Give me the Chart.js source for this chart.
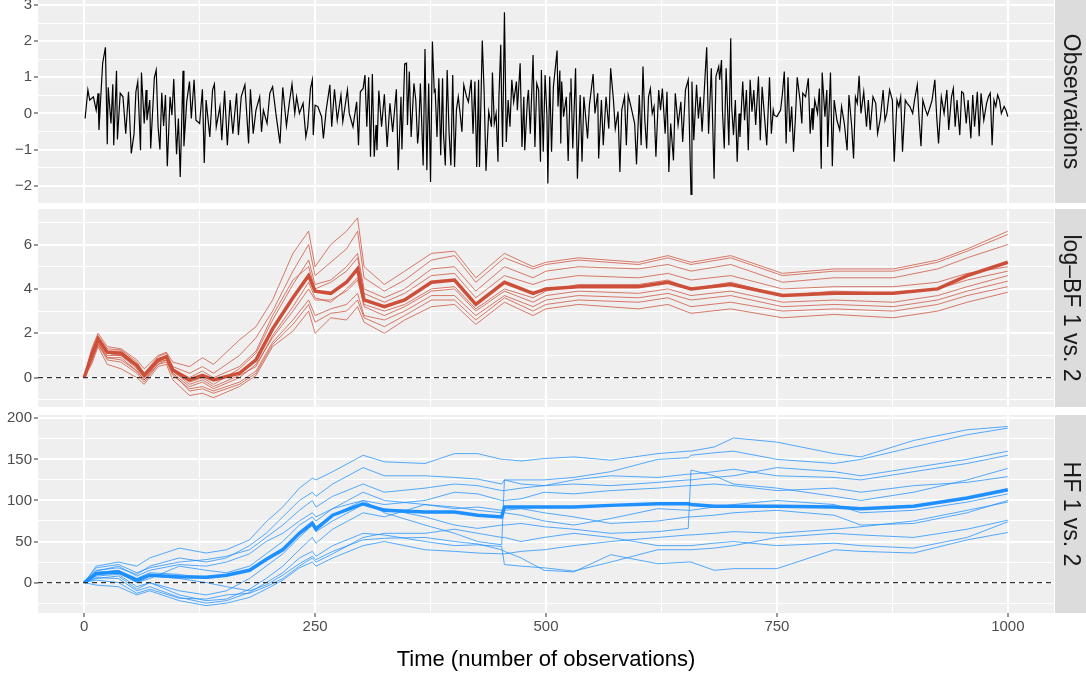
<!DOCTYPE html>
<html>
<head>
<meta charset="utf-8">
<script src="https://cdn.jsdelivr.net/npm/chart.js@4.4.1/dist/chart.umd.min.js"></script>
<style>
  html, body { margin: 0; padding: 0; background: #fff; overflow: hidden; }
  body { width: 1086px; height: 679px; position: relative; }
  .panel { position: absolute; left: 0; width: 1086px; }
</style>
</head>
<body>
<div class="panel" style="top:-20px;height:243px"><canvas id="chartObs"></canvas></div>
<div class="panel" style="top:189px;height:238px"><canvas id="chartBF"></canvas></div>
<div class="panel" style="top:395px;height:284px"><canvas id="chartHF"></canvas></div>
<script>
// ---- data ----
const obsTime = [1,4,6,10,13,15,16,20,23,25,26,29,31,32,35,36,39,42,45,48,51,54,56,58,61,62,65,67,68,71,72,76,78,80,82,84,86,88,90,93,95,97,100,102,104,107,108,111,114,116,119,121,125,128,130,132,136,139,141,143,147,149,152,155,158,161,165,167,170,174,178,180,183,186,190,192,194,198,201,204,208,212,215,219,222,225,228,230,233,237,
  240,242,245,247,248,250,253,257,259,262,266,268,271,274,278,280,285,287,291,295,297,299,302,304,306,308,310,312,314,316,317,319,322,325,328,331,334,338,340,343,344,347,349,350,352,354,357,359,361,362,364,367,369,371,373,375,377,379,380,382,384,386,388,389,391,393,395,397,399,401,403,405,407,409,411,414,416,419,421,423,425,427,428,431,433,435,438,441,442,444,446,448,449,451,452,453,455,456,457,459,461,463,465,468,469,472,474,476,477,480,481,483,486,488,490,492,494,495,497,499,501,502,504,506,508,
  512,513,515,516,517,519,522,524,526,527,529,532,534,537,539,541,545,547,549,551,553,556,557,560,562,565,568,570,573,575,578,580,582,585,587,589,592,596,598,601,603,605,607,609,611,613,615,617,619,622,624,626,629,631,633,635,638,640,643,646,648,651,654,657,658,660,663,665,667,669,672,674,676,679,680,682,684,687,688,690,691,693,695,698,700,701,703,705,707,709,710,713,715,717,719,721,723,725,727,730,732,734,736,739,742,744,746,747,750,754,756,758,760,762,764,766,768,770,772,775,777,778,
  781,784,786,788,789,791,794,796,798,799,802,804,805,808,810,812,815,818,820,823,826,828,831,833,835,837,839,841,844,847,849,851,854,857,859,862,865,867,869,872,875,877,880,882,884,886,889,891,894,897,899,902,904,906,908,911,913,916,918,921,923,925,928,931,934,936,939,941,943,945,948,950,952,955,957,960,962,964,967,969,971,974,977,979,981,983,985,987,989,991,993,996,998,1000];
const obsValue = [-0.14,0.65,0.37,0.46,0.09,0.56,-0.46,1.39,1.83,-0.85,0.72,-0.28,0.81,-0.88,1.18,-0.72,0.56,0.46,-0.56,0.6,-1.11,-0.56,0.6,0.88,-1.02,1.13,-0.28,0.65,-0.19,0.37,-0.97,1.0,1.2,-0.37,-1.0,0.57,-0.35,0.51,-1.46,0.46,-0.05,0.95,-1.13,-0.14,-1.76,1.18,-0.91,0.32,0.88,-0.14,0.93,-0.19,-0.28,0.67,-1.37,0.37,-0.65,0.65,0.81,-0.37,0.19,-0.74,0.63,-0.88,0.37,-0.56,0.56,-0.6,0.46,0.79,-0.83,0.67,-0.56,0.09,0.46,-0.51,0.09,-0.28,0.56,0.74,-0.09,-0.83,0.72,-0.35,0.28,0.81,0,0.46,0,0.28,
  -0.65,-0.37,0.69,0.93,-0.6,0.23,0.19,-0.09,-0.69,0.09,0.79,-0.37,0.67,-0.19,0.51,-0.23,0.65,0,-0.37,0.32,-0.88,0.6,0.69,1.06,-0.37,1.0,-1.2,1.09,-1.2,-0.32,-1.02,0.63,-0.37,0.53,-0.93,0.28,-0.51,0.67,-1.57,0.46,-1.0,1.37,1.39,-0.32,1.16,-0.65,0.83,0.37,-0.83,-0.56,0.83,-1.44,1.78,-1.57,0.83,-1.9,1.99,0.6,0.65,-0.65,0.97,-1.16,0.97,-0.56,-1.44,1.2,-0.51,-1.44,1.06,-1.48,0.09,0.46,0,-0.51,0.79,0.46,0.32,0.93,-0.56,0.88,-1.48,0.93,-1.48,2.02,0.6,-1.59,0.05,-0.37,1.13,-0.28,0,-1.34,0.42,1.9,0.23,-0.93,2.8,1.02,-0.79,0.37,-0.37,0.93,0.32,0.88,0.09,1.39,-0.93,0.46,-1.02,0.42,0.65,-0.56,1.62,-0.93,0.83,0.65,-1.34,1.2,-1.06,1.06,-0.05,-1.94,1.02,-1.06,0.74,
  1.74,0.19,1.19,-0.83,0.88,-0.09,0.46,-1.32,0.56,0.97,-0.97,1.25,-1.81,0.51,-1.34,0.46,-0.69,0.23,0.65,1.09,0,0.56,-1.25,0.37,-0.88,0.46,-0.42,1.25,0.37,-0.42,0.05,-1.62,0.09,0.46,-0.88,0.51,0.19,-0.28,-1.41,0.51,-0.88,1.3,-0.19,-0.97,0.46,0.69,0,0.19,-1.2,0.65,0.09,0.69,-0.56,0.6,-1.62,-0.28,-1.3,0.56,-0.32,0.32,-0.79,0.65,0.93,-2.24,0.88,-0.74,0.79,-0.14,0.46,-0.51,0.93,1.83,-0.56,1.25,0.19,-1.81,1.02,1.3,0.93,1.48,0.09,-0.97,1.25,-0.88,2.08,0.19,-0.6,0.37,-1.34,0,-0.65,0.88,-0.19,0.65,-1.02,0.93,0.05,0.65,-0.32,1.02,-0.74,0.74,0.09,-0.88,1.0,-0.56,0.09,-0.05,-0.09,0.09,0.56,1.16,-0.83,1.0,-0.51,0.19,-1.06,-0.14,1.0,0.37,-0.28,0.56,
  0.46,0.97,-0.56,0.14,-0.46,0.37,0,0.69,-1.53,1.13,-0.09,0.65,-0.93,1.13,-1.46,0.37,-0.19,-0.46,0.19,-0.28,-1.02,0.51,-0.37,-1.25,0.46,0.28,1.04,0,0.6,-0.37,0.37,-0.46,0.46,0.28,-0.56,-0.14,0.65,-0.19,0,0.65,0.37,-1.34,0.37,0.19,0.46,-1.06,0.37,0.28,0.19,0,0.37,0.79,-0.19,-0.91,0.37,0.09,-0.05,0.19,0.37,0.93,-0.09,-0.83,0.46,0,0.65,-0.46,0.46,0.69,-0.37,0.37,-0.6,0.6,0.56,-0.28,0.37,-0.69,0.51,-0.37,0.6,-0.63,0.56,-0.19,0.28,0.46,0.56,-0.88,0.37,0.19,0.51,0.37,0,0.19,0.09,-0.09];

const bfTime = [0,8,15,25,40,57,65,80,89,96,114,128,140,168,186,204,226,243,250,267,284,296,303,325,347,376,401,424,455,486,500,535,600,632,657,700,756,812,876,924,956,1000];
const bfMean = [0,1.0,1.75,1.15,1.1,0.55,0.1,0.8,0.95,0.35,-0.1,0.1,-0.1,0.2,0.8,2.2,3.6,4.6,3.9,3.8,4.3,4.9,3.5,3.2,3.5,4.3,4.4,3.3,4.3,3.8,4.0,4.1,4.1,4.3,4.0,4.2,3.7,3.8,3.8,4.0,4.6,5.2];
const bfRuns = [
  [0,1.3,2.0,1.4,1.3,0.8,0.4,1.0,1.15,0.7,0.5,0.9,0.6,1.7,2.3,3.5,5.6,6.6,5.0,6.0,6.6,7.2,5.0,4.2,4.8,5.6,5.7,4.5,5.6,5.0,5.2,5.4,5.2,5.5,5.2,5.5,4.7,4.9,4.9,5.3,5.8,6.6],
  [0,1.2,1.9,1.3,1.25,0.7,0.2,0.95,1.1,0.5,0.2,0.5,0.2,1.0,1.8,3.0,4.8,6.0,4.6,5.2,5.8,6.6,4.5,3.9,4.4,5.3,5.5,4.3,5.4,4.9,5.1,5.3,5.1,5.4,5.1,5.4,4.6,4.8,4.8,5.2,5.7,6.45],
  [0,0.9,1.6,1.0,1.0,0.4,0.0,0.7,0.9,0.3,-0.2,0.0,-0.3,0.4,1.1,2.6,4.2,5.3,4.2,4.4,5.0,5.6,4.0,3.6,4.0,4.9,5.0,3.9,5.0,4.5,4.8,5.0,4.9,5.1,4.8,5.1,4.3,4.5,4.5,4.9,5.4,6.0],
  [0,1.1,1.8,1.2,1.2,0.6,0.2,0.85,1.0,0.4,0.0,0.3,0.0,0.5,1.2,2.8,4.4,5.0,4.0,4.3,4.8,5.4,3.8,3.4,3.8,4.6,4.7,3.6,4.6,4.2,4.4,4.6,4.5,4.7,4.4,4.6,4.0,4.1,4.1,4.3,4.7,5.0],
  [0,0.8,1.5,0.9,0.9,0.3,-0.1,0.6,0.8,0.2,-0.4,-0.2,-0.5,0.0,0.6,1.8,3.0,4.0,3.5,3.5,3.9,4.4,3.3,3.0,3.3,4.0,4.1,3.1,4.0,3.6,3.9,4.2,4.2,4.4,4.0,4.3,3.7,3.9,3.8,4.0,4.4,4.8],
  [0,1.0,1.7,1.1,1.0,0.5,0.1,0.8,0.9,0.3,-0.3,-0.1,-0.4,0.1,0.5,1.9,3.2,4.3,3.6,3.4,4.0,4.5,3.2,2.8,3.2,3.9,4.0,3.0,3.9,3.4,3.7,3.9,3.8,4.0,3.7,3.9,3.4,3.5,3.4,3.7,4.1,4.6],
  [0,0.7,1.5,0.8,0.7,0.2,-0.2,0.6,0.7,0.1,-0.5,-0.4,-0.6,-0.2,0.3,1.6,2.6,3.5,2.8,3.1,3.3,3.8,2.8,2.6,3.0,3.7,3.7,2.8,3.7,3.2,3.5,3.7,3.6,3.8,3.5,3.7,3.2,3.3,3.2,3.5,3.9,4.35],
  [0,0.9,1.6,0.9,0.8,0.3,-0.1,0.7,0.8,0.2,-0.6,-0.5,-0.7,-0.3,0.2,1.5,2.4,3.3,2.5,2.9,3.0,3.5,2.7,2.3,2.8,3.5,3.5,2.6,3.6,3.0,3.3,3.5,3.4,3.6,3.2,3.4,3.0,3.1,3.0,3.3,3.7,4.1],
  [0,0.6,1.4,0.6,0.4,0.0,-0.3,0.5,0.6,-0.1,-0.8,-0.7,-0.9,-0.4,0.1,1.4,2.1,3.0,2.0,2.7,2.6,3.2,2.5,2.0,2.6,3.2,3.3,2.4,3.4,2.8,3.1,3.3,3.1,3.3,2.9,3.1,2.7,2.85,2.7,3.0,3.4,3.85]
];

const hfTime = [0,13,37,57,71,103,132,154,179,197,215,233,247,251,269,302,325,369,401,426,452,455,473,498,530,570,621,654,657,682,703,750,812,841,898,956,1000];
const hfMean = [0,11,13,3,9,7,6.5,9,15,28,40,60,72,65,82,96,88,86,86,82,80,92,92,92,92,94,96,96,95,93,93,93,92,90,93,103,113];
const hfRuns = [
  [0,20,25,20,30,42,36,40,52,74,92,115,127,125,135,155,147,145,157,157,150,150,148,151,153,149,157,160,160,165,176,171,157,153,173,186,190],
  [0,15,18,10,20,30,25,30,45,60,80,100,110,105,120,140,130,130,128,126,120,125,125,125,128,135,150,152,155,158,160,150,145,150,165,180,188],
  [0,10,15,0,5,20,15,12,20,35,50,70,80,75,90,100,85,70,60,50,46,125,120,118,120,118,122,125,125,128,130,140,135,130,140,150,160],
  [0,8,10,-5,0,-10,-15,-10,5,20,35,55,70,62,75,95,90,80,70,66,70,70,72,68,65,60,62,66,137,130,120,115,105,100,110,125,139],
  [0,12,15,5,12,10,5,8,15,30,42,62,75,68,82,100,95,100,110,108,100,100,102,110,108,112,115,118,118,120,118,112,115,110,118,122,129],
  [0,5,8,-8,0,-15,-22,-20,-8,5,20,40,55,48,65,85,80,95,92,88,85,85,82,75,70,78,90,88,88,92,95,100,95,85,88,98,108],
  [0,14,20,8,15,22,20,25,35,50,60,75,85,80,90,110,100,95,90,92,88,88,90,85,80,72,75,80,80,82,85,88,82,70,72,85,100],
  [0,6,5,-10,-5,-18,-25,-22,-12,0,12,30,38,32,45,60,58,50,45,46,44,22,20,18,14,25,40,40,40,42,45,55,60,58,55,65,76],
  [0,10,12,0,8,5,0,-5,-10,-3,9,23,32,28,38,52,54,55,50,47,40,38,30,15,13,34,23,25,25,15,17,17,40,38,36,52,61],
  [0,3,0,-13,-8,-19,-20,-15,-13,-5,5,20,30,25,35,55,60,60,65,60,55,55,50,55,60,55,45,45,45,48,50,45,48,45,42,55,74],
  [0,18,22,12,18,25,28,32,40,55,70,88,100,92,105,120,110,115,120,118,112,112,115,118,125,130,128,132,132,135,138,130,128,125,135,145,155],
  [0,-3,-5,-15,-10,-22,-28,-25,-18,-8,3,18,25,20,30,45,50,40,38,36,35,35,38,40,45,50,55,58,58,60,62,60,65,68,75,88,98]
];

// axis breaks
const timeTicks = [0,125,250,375,500,625,750,875,1000];
const timeLabels = [0,250,500,750,1000];
const obsTicks = [-2,-1.5,-1,-0.5,0,0.5,1,1.5,2,2.5,3];
const obsLabels = [-2,-1,0,1,2,3];
const bfTicks = [-1,0,1,2,3,4,5,6,7];
const bfLabels = [0,2,4,6];
const hfTicks = [-25,0,25,50,75,100,125,150,175,200];
const hfLabels = [0,50,100,150,200];

Chart.defaults.font.family = '"Liberation Sans", Arial, Helvetica, sans-serif';

function pts(xs, ys) {
    return xs.map((x, i) => ({x: x, y: ys[i]}));
}

// grey panel, grey strip on the right, dashed zero line
const panelPlugin = {
    id: 'panel',
    beforeDraw(chart, args, opts) {
        const ctx = chart.ctx;
        const a = chart.chartArea;
        ctx.save();
        ctx.fillStyle = '#efefef';
        ctx.fillRect(a.left, a.top, a.right - a.left, a.bottom - a.top);
        ctx.fillStyle = '#dcdcdc';
        ctx.fillRect(a.right + 1, a.top, chart.width - a.right - 1, a.bottom - a.top);
        ctx.translate((a.right + 1 + chart.width) / 2, (a.top + a.bottom) / 2);
        ctx.rotate(Math.PI / 2);
        ctx.fillStyle = '#1a1a1a';
        ctx.font = '23px "Liberation Sans", Arial, sans-serif';
        ctx.textAlign = 'center';
        ctx.textBaseline = 'middle';
        ctx.fillText(opts.label, 0, 0);
        ctx.restore();
    },
    afterDatasetsDraw(chart, args, opts) {
        if (!opts.zeroLine) return;
        const ctx = chart.ctx;
        const a = chart.chartArea;
        const py = chart.scales.y.getPixelForValue(0);
        ctx.save();
        ctx.strokeStyle = '#333333';
        ctx.lineWidth = 1.2;
        ctx.setLineDash([5, 4]);
        ctx.beginPath();
        ctx.moveTo(a.left, py);
        ctx.lineTo(a.right, py);
        ctx.stroke();
        ctx.restore();
    }
};

function isIn(list, c) {
    return c.tick !== undefined && list.includes(c.tick.value);
}

function yScale(min, max, ticks, labels) {
    return {
        type: 'linear', min: min, max: max,
        afterBuildTicks: s => { s.ticks = ticks.map(v => ({value: v})); },
        afterFit: s => { s.width = 38; },
        border: {display: false},
        grid: {
            color: '#ffffff',
            lineWidth: c => isIn(labels, c) ? 2 : 1,
            tickColor: c => isIn(labels, c) ? '#333333' : 'rgba(0,0,0,0)',
            tickLength: 4,
            tickWidth: 1
        },
        ticks: {
            autoSkip: false, padding: 2, color: '#4d4d4d',
            font: {size: 15},
            callback: v => labels.includes(v) ? String(v).replace('-', '\u2212') : ''
        }
    };
}

function xScale(bottom) {
    return {
        type: 'linear', min: -50, max: 1050,
        afterBuildTicks: s => { s.ticks = timeTicks.map(v => ({value: v})); },
        afterFit: s => { s.height = bottom ? 66 : 0; },
        border: {display: false},
        grid: {
            color: '#ffffff',
            lineWidth: c => isIn(timeLabels, c) ? 2 : 1,
            tickColor: c => isIn(timeLabels, c) ? '#333333' : 'rgba(0,0,0,0)',
            drawTicks: bottom,
            tickLength: 4,
            tickWidth: 1
        },
        ticks: {
            display: bottom, autoSkip: false, maxRotation: 0, padding: 1,
            color: '#4d4d4d', font: {size: 15},
            callback: v => timeLabels.includes(v) ? String(v) : ''
        },
        title: {
            display: bottom, text: 'Time (number of observations)',
            color: '#000000', font: {size: 22}, padding: {top: 0, bottom: 6}
        }
    };
}

function makeChart(id, datasets, y, label, zeroLine, bottom) {
    new Chart(id, {
        type: 'line',
        data: {datasets: datasets},
        options: {
            responsive: true,
            maintainAspectRatio: false,
            animation: false,
            events: [],
            layout: {padding: {top: 20, right: 32, bottom: bottom ? 0 : 20, left: 0}},
            elements: {point: {radius: 0}, line: {tension: 0}},
            scales: {x: xScale(bottom), y: y},
            plugins: {
                legend: {display: false},
                tooltip: {enabled: false},
                panel: {label: label, zeroLine: zeroLine}
            }
        },
        plugins: [panelPlugin]
    });
}

makeChart('chartObs', [{
    data: pts(obsTime, obsValue),
    borderColor: '#000000',
    borderWidth: 1.2
}], yScale(-2.48, 3.14, obsTicks, obsLabels), 'Observations', false, false);

let bfSets = bfRuns.map(run => ({
    data: pts(bfTime, run),
    borderColor: 'rgba(205,79,57,0.75)',
    borderWidth: 1
}));
bfSets.push({data: pts(bfTime, bfMean), borderColor: '#cd4f39', borderWidth: 3.5});
makeChart('chartBF', bfSets, yScale(-1.32, 7.6, bfTicks, bfLabels), 'log\u2013BF 1 vs. 2', true, false);

let hfSets = hfRuns.map(run => ({
    data: pts(hfTime, run),
    borderColor: 'rgba(30,144,255,0.75)',
    borderWidth: 1
}));
hfSets.push({data: pts(hfTime, hfMean), borderColor: '#1e90ff', borderWidth: 3.5});
makeChart('chartHF', hfSets, yScale(-37, 204, hfTicks, hfLabels), 'HF 1 vs. 2', true, true);
</script>
</body>
</html>
